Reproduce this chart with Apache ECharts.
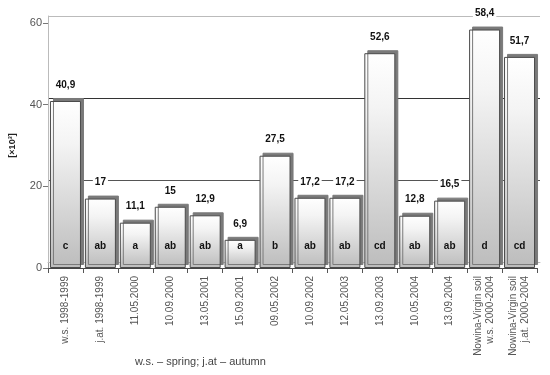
<!DOCTYPE html>
<html>
<head>
<meta charset="utf-8">
<script src="https://cdn.jsdelivr.net/npm/echarts@6/dist/echarts.min.js"></script>
<style>html,body{margin:0;padding:0;background:#fff;}#c{width:550px;height:375px;}</style>
</head>
<body>
<div id="c"></div>
<script>
const categories = ['w.s. 1998-1999','j.at. 1998-1999','11.05.2000','10.09.2000','13.05.2001','15.09.2001','09.05.2002','10.09.2002','12.05.2003','13.09.2003','10.05.2004','13.09.2004','Nowina-Virgin soil\nw.s. 2000-2004','Nowina-Virgin soil\nj.at. 2000-2004'];
const values = [40.9, 17, 11.1, 15, 12.9, 6.9, 27.5, 17.2, 17.2, 52.6, 12.8, 16.5, 58.4, 51.7];
const groups = ['c','ab','a','ab','ab','a','b','ab','ab','cd','ab','ab','d','cd'];
const yAxisName = '[×10³]';
const footnote = 'w.s. – spring; j.at – autumn';

const chart = echarts.init(document.getElementById('c'), null, {renderer: 'canvas'});
const F = 'Arial, "Liberation Sans", sans-serif';
chart.setOption({
  animation: false,
  title: {
    text: footnote, left: 130, top: 351,
    textStyle: {fontFamily: F, fontSize: 11, fontWeight: 'normal', color: '#444'}
  },
  grid: [
    {left: 44, right: 13, top: 23, bottom: 107, containLabel: false},
    {left: 48, right: 10, top: 16, bottom: 113, containLabel: false}
  ],
  xAxis: [
    {
      type: 'category', gridIndex: 0, data: categories,
      axisLine: {lineStyle: {color: '#444'}},
      axisTick: {show: true, length: 5, lineStyle: {color: '#555'}},
      axisLabel: {rotate: 90, margin: 8, fontFamily: F, fontSize: 10, color: '#555', interval: 0, lineHeight: 12}
    },
    {
      type: 'value', gridIndex: 1, position: 'top', min: 0, max: 1,
      axisLine: {show: true, lineStyle: {color: '#bbb'}},
      axisTick: {show: false}, axisLabel: {show: false}, splitLine: {show: false}
    }
  ],
  yAxis: [
    {
      type: 'value', gridIndex: 0, min: 0, max: 60, interval: 20,
      name: yAxisName, nameLocation: 'middle', nameGap: 31,
      nameTextStyle: {fontFamily: F, fontSize: 9, fontWeight: 'bold', color: '#222'},
      axisLine: {show: true, lineStyle: {color: '#999'}},
      axisTick: {show: true, length: 5, lineStyle: {color: '#777'}},
      axisLabel: {fontFamily: F, fontSize: 11, color: '#555', margin: 6},
      splitLine: {show: false}
    },
    {
      type: 'value', gridIndex: 1, position: 'right', min: 0, max: 60, interval: 20,
      axisLine: {show: true, lineStyle: {color: '#bbb'}},
      axisTick: {show: false}, axisLabel: {show: false},
      splitLine: {show: true, lineStyle: {color: ['#999', '#555', '#333', '#bbb'], width: 1}}
    }
  ],
  series: [
    {
      type: 'bar', xAxisIndex: 0, yAxisIndex: 0, data: values, barWidth: 31, z: 3,
      itemStyle: {
        color: new echarts.graphic.LinearGradient(0, 0, 0, 1, [
          {offset: 0, color: '#ffffff'},
          {offset: 0.25, color: '#f4f4f4'},
          {offset: 1, color: '#bcbcbc'}
        ]),
        borderColor: '#4a4a4a', borderWidth: 1,
        shadowColor: '#7a7a7a', shadowBlur: 0, shadowOffsetX: 3, shadowOffsetY: -3
      },
      label: {
        show: true, position: 'insideBottom', distance: 17,
        formatter: p => groups[p.dataIndex],
        fontFamily: F, fontSize: 10, fontWeight: 'bold', color: '#111'
      }
    },
    {
      type: 'bar', xAxisIndex: 0, yAxisIndex: 0, data: values, barWidth: 31, barGap: '-100%', z: 4,
      itemStyle: {color: 'rgba(0,0,0,0)'},
      label: {
        show: true, position: 'top', distance: 11,
        formatter: p => String(values[p.dataIndex]).replace('.', ','),
        fontFamily: F, fontSize: 10, fontWeight: 'bold', color: '#111',
        backgroundColor: '#fff', padding: [0, 2]
      }
    }
  ]
});
</script>
</body>
</html>
